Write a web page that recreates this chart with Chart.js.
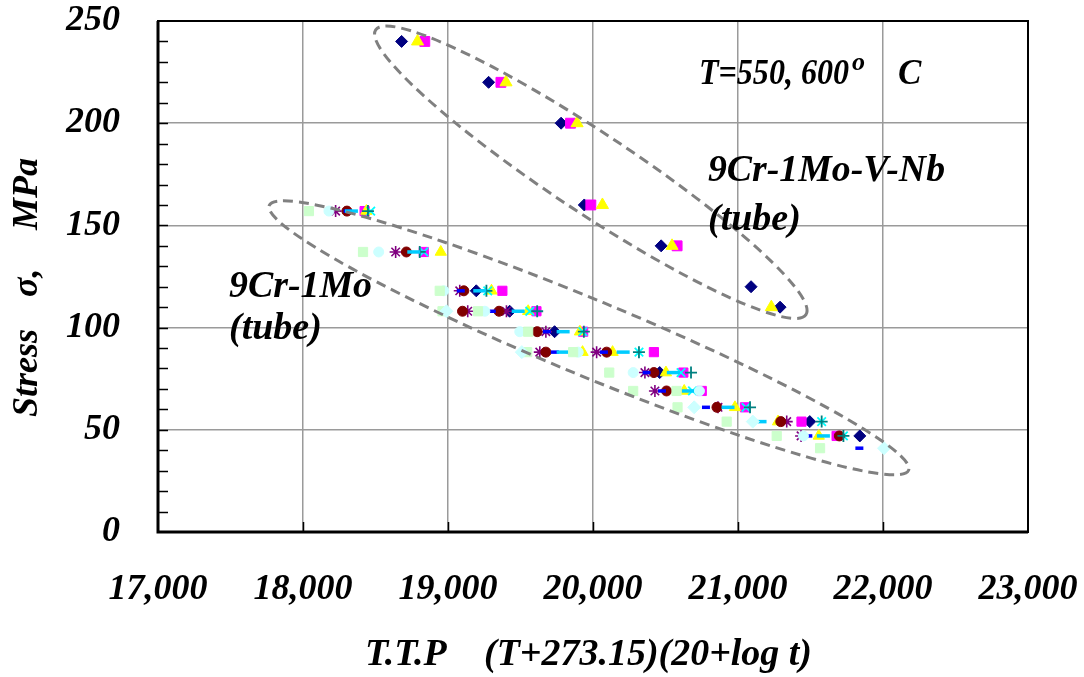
<!DOCTYPE html>
<html>
<head>
<meta charset="utf-8">
<script src="https://cdn.jsdelivr.net/npm/chart.js@4.4.0/dist/chart.umd.min.js"></script>
<style>
  html, body { margin: 0; padding: 0; background: #fff; }
  canvas { display: block; }
</style>
</head>
<body>
<canvas id="ttp-chart" width="1084" height="677"></canvas>
<script>
// Tick labels
const xTicks = [17000, 18000, 19000, 20000, 21000, 22000, 23000];
const yTicks = [0, 50, 100, 150, 200, 250];

// 9Cr-1Mo-V-Nb (tube) - T.T.P values and stresses (MPa)
const vnbDiamondT = [18680, 19280, 19780, 19940, 20470, 21090, 21290];
const vnbDiamondS = [240, 220, 200, 160, 140, 120, 110];
const vnbSquareT = [18840, 19365, 19845, 19985, 20580];
const vnbSquareS = [240, 220, 200, 160, 140];
const vnbTriangleT = [18790, 19400, 19890, 20065, 20545, 21230];
const vnbTriangleS = [240, 220, 200, 160, 140, 110];

// 9Cr-1Mo (tube)
const moDiamondT = [19195, 19425, 19735, 20460, 21495, 21840];
const moDiamondS = [118, 108, 98, 78, 54, 47];
const moSquareT = [18425, 18833, 19375, 19610, 19932, 20420, 20623, 20750, 21048, 21438, 21680];
const moSquareS = [157, 137, 118, 108, 98, 88, 78, 69, 61, 54, 47];
const moTriangleT = [18437, 18950, 19300, 19553, 19910, 19928, 20135, 20503, 20629, 20979, 21276, 21557];
const moTriangleS = [157, 137, 118, 108, 98, 88, 88, 78, 69, 61, 54, 47];
const moXT = [18467, 18833, 19274, 19564, 19930, 20317, 20607, 20686, 21055, 21577, 21727];
const moXS = [157, 137, 118, 108, 98, 88, 78, 69, 61, 54, 47];
const moStarT = [18225, 18639, 19081, 19136, 19403, 19675, 19633, 20025, 20358, 20427, 20862, 21336, 21435];
const moStarS = [157, 137, 118, 108, 108, 98, 88, 88, 78, 69, 61, 54, 47];
const moCircleT = [18303, 18713, 19109, 19100, 19352, 19615, 19675, 20094, 20420, 20507, 20855, 21295, 21699];
const moCircleS = [157, 137, 118, 108, 108, 98, 88, 88, 78, 69, 61, 54, 47];
const moPlusT = [18448, 18805, 19265, 19615, 19937, 20317, 20676, 21083, 21577, 21727];
const moPlusS = [157, 137, 118, 108, 98, 88, 78, 61, 54, 47];
const moDashT = [18308, 19088, 19302, 19682, 19737, 20075, 20370, 20476, 20779, 21485, 21837];
const moDashS = [157, 118, 108, 98, 88, 88, 78, 69, 61, 47, 41];
const moLongDashT = [18334, 18764, 19219, 19484, 19794, 19794, 20208, 20554, 20657, 20931, 21152, 21589];
const moLongDashS = [157, 137, 118, 108, 98, 88, 88, 78, 69, 61, 54, 47];
const moPaleCircleT = [18179, 18522, 18971, 19254, 19495, 19898, 20277, 20734, 21451];
const moPaleCircleS = [157, 137, 118, 108, 98, 88, 78, 69, 47];
const moPaleSquareT = [18041, 18414, 18943, 18962, 19207, 19553, 19546, 19863, 20112, 20277, 20576, 20583, 20922, 21267, 21566];
const moPaleSquareS = [157, 137, 118, 108, 108, 98, 88, 88, 78, 69, 69, 61, 54, 47, 41];
const moPaleDiamondT = [18989, 19509, 20698, 21102, 22007];
const moPaleDiamondS = [108, 88, 61, 54, 41];

const FONT = '"Liberation Serif", "Times New Roman", serif';

function fmt(v) {
    return String(v).replace(/\B(?=(\d{3})+(?!\d))/g, ',');
}

// later Excel series are painted on top
let seriesCount = 0;
function makeSeries(label, xs, ys, shape, color, radius, border) {
    seriesCount++;
    return {
        label: label,
        data: xs.map((x, i) => ({ x: x, y: ys[i] })),
        showLine: false,
        pointStyle: shape,
        pointRadius: radius,
        pointHoverRadius: radius,
        pointBackgroundColor: color,
        pointBorderColor: color,
        pointBorderWidth: border,
        order: -seriesCount
    };
}

const datasets = [
    makeSeries('V-Nb 1', vnbDiamondT, vnbDiamondS, 'rectRot', '#000080', 6, 1),
    makeSeries('V-Nb 2', vnbSquareT, vnbSquareS, 'rect', '#FF00FF', 7, 1),
    makeSeries('V-Nb 3', vnbTriangleT, vnbTriangleS, 'triangle', '#FFFF00', 7, 1),
    makeSeries('Mo 1', moDiamondT, moDiamondS, 'rectRot', '#000080', 6, 1),
    makeSeries('Mo 2', moSquareT, moSquareS, 'rect', '#FF00FF', 6.5, 1),
    makeSeries('Mo 3', moTriangleT, moTriangleS, 'triangle', '#FFFF00', 6.5, 1),
    makeSeries('Mo 4', moXT, moXS, 'crossRot', '#00FFFF', 6, 1.8),
    makeSeries('Mo 5', moStarT, moStarS, 'star', '#800080', 6, 1.6),
    makeSeries('Mo 6', moCircleT, moCircleS, 'circle', '#800000', 5, 1),
    makeSeries('Mo 7', moPlusT, moPlusS, 'cross', '#008080', 6, 1.8),
    makeSeries('Mo 8', moDashT, moDashS, 'line', '#0000FF', 4, 3.5),
    makeSeries('Mo 9', moLongDashT, moLongDashS, 'line', '#00CCFF', 6.5, 3.5),
    makeSeries('Mo 10', moPaleCircleT, moPaleCircleS, 'circle', '#CCFFFF', 5, 1),
    makeSeries('Mo 11', moPaleSquareT, moPaleSquareS, 'rect', '#CCFFCC', 6.5, 1),
    makeSeries('Mo 12', moPaleDiamondT, moPaleDiamondS, 'rectRot', '#CCFFFF', 6.5, 1)
];

// dashed grouping ellipses: centre in data units, radii in px, tilt in degrees
const groupEllipses = [
    { t: 19985, s: 176, rx: 258, ry: 40, tilt: 33.5 },
    { t: 19972, s: 95, rx: 346, ry: 38, tilt: 22.5 }
];

function fitBox(width, height) {
    return scale => {
        if (width) scale.width = width;
        if (height) scale.height = height;
        scale.paddingLeft = 0;
        scale.paddingRight = 0;
        scale.paddingTop = 0;
        scale.paddingBottom = 0;
    };
}

const decorations = {
    id: 'decorations',
    afterDatasetsDraw(chart) {
        const ctx = chart.ctx;
        const area = chart.chartArea;
        const xs = chart.scales.x;
        const ys = chart.scales.y;

        ctx.save();
        // plot frame
        ctx.strokeStyle = '#000';
        ctx.lineWidth = 2;
        ctx.strokeRect(area.left, area.top, area.right - area.left, area.bottom - area.top);
        ctx.lineWidth = 3;
        ctx.beginPath();
        ctx.moveTo(area.left, area.top);
        ctx.lineTo(area.left, area.bottom);
        ctx.lineTo(area.right, area.bottom);
        ctx.stroke();

        // inside tick marks
        ctx.lineWidth = 1.5;
        ctx.beginPath();
        for (let v = 10; v < 250; v += 10) {
            const y = Math.round(ys.getPixelForValue(v)) + 0.5;
            ctx.moveTo(area.left, y);
            ctx.lineTo(area.left + 10, y);
        }
        for (let t = 18000; t < 23000; t += 1000) {
            const x = Math.round(xs.getPixelForValue(t)) + 0.5;
            ctx.moveTo(x, area.bottom);
            ctx.lineTo(x, area.bottom - 10);
        }
        ctx.stroke();

        // grouping ellipses
        ctx.strokeStyle = '#808080';
        ctx.lineWidth = 3;
        ctx.setLineDash([10, 6]);
        groupEllipses.forEach(e => {
            ctx.beginPath();
            ctx.ellipse(xs.getPixelForValue(e.t), ys.getPixelForValue(e.s), e.rx, e.ry,
                e.tilt * Math.PI / 180, 0, 2 * Math.PI);
            ctx.stroke();
        });
        ctx.setLineDash([]);

        // annotations
        ctx.fillStyle = '#000';
        ctx.textAlign = 'left';
        ctx.textBaseline = 'alphabetic';
        ctx.font = 'bold italic 35px ' + FONT;
        ctx.fillText('T=550, 600', 699, 84, 150);
        ctx.fillText('C', 898, 84);
        ctx.font = 'bold italic 38px ' + FONT;
        ctx.fillText('9Cr-1Mo-V-Nb', 708, 181, 237);
        ctx.fillText('(tube)', 708, 230);
        ctx.fillText('9Cr-1Mo', 229, 297, 143);
        ctx.fillText('(tube)', 229, 339);
        ctx.font = 'bold italic 26px ' + FONT;
        ctx.fillText('o', 852, 70);

        // axis titles
        ctx.font = 'bold italic 38px ' + FONT;
        ctx.fillText('T.T.P', 365, 665, 93);
        ctx.fillText('(T+273.15)(20+log t)', 484, 665, 328);

        ctx.font = 'bold italic 36px ' + FONT;
        ctx.translate(37, 417);
        ctx.rotate(-Math.PI / 2);
        ctx.fillText('Stress', 0, 0);
        ctx.fillText('\u03C3,', 120, 0);
        ctx.fillText('MPa', 187, 0);
        ctx.restore();
    }
};

new Chart(document.getElementById('ttp-chart'), {
    type: 'scatter',
    data: { datasets: datasets },
    options: {
        responsive: false,
        animation: false,
        devicePixelRatio: 1,
        layout: { padding: { top: 21, right: 56, left: 0, bottom: 0 } },
        plugins: {
            legend: { display: false },
            tooltip: { enabled: false }
        },
        scales: {
            x: {
                type: 'linear',
                min: xTicks[0],
                max: xTicks[xTicks.length - 1],
                afterFit: fitBox(0, 145),
                afterBuildTicks: scale => { scale.ticks = xTicks.map(v => ({ value: v })); },
                border: { display: false },
                grid: { color: '#9a9a9a', lineWidth: 1.5, drawTicks: false },
                ticks: {
                    padding: 36,
                    color: '#000',
                    maxRotation: 0,
                    autoSkip: false,
                    font: { family: FONT, size: 36, weight: 'bold', style: 'italic' },
                    callback: v => fmt(v)
                }
            },
            y: {
                min: yTicks[0],
                max: yTicks[yTicks.length - 1],
                afterFit: fitBox(158, 0),
                afterBuildTicks: scale => { scale.ticks = yTicks.map(v => ({ value: v })); },
                border: { display: false },
                grid: { color: '#9a9a9a', lineWidth: 1.5, drawTicks: false },
                ticks: {
                    padding: 38,
                    color: '#000',
                    font: { family: FONT, size: 36, weight: 'bold', style: 'italic' }
                }
            }
        }
    },
    plugins: [decorations]
});
</script>
</body>
</html>
